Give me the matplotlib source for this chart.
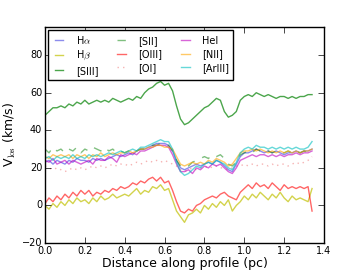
import matplotlib
matplotlib.use('Agg')
import matplotlib.pyplot as plt
import numpy as np

plt.style.use('classic')
plt.rcParams['figure.facecolor'] = 'white'
plt.rcParams['savefig.facecolor'] = 'white'
plt.rcParams['font.family'] = 'DejaVu Sans'

# distance along profile (pc), 68 samples
dist = np.linspace(0, 1.34, 68)

siii = [48, 50, 52, 52, 53, 52, 54, 53, 55, 54, 56, 54, 55, 56, 55,
        56, 55, 57, 56, 55, 56, 57, 56, 58, 57, 60, 62, 63, 65, 66,
        64, 65, 61, 53, 46, 43, 44, 46, 48, 50, 52, 53, 55, 57, 56,
        50, 47, 48, 50, 56, 58, 59, 58, 60, 59, 58, 59, 58, 57, 58,
        58, 57, 58, 57, 58, 58, 59, 59]
halpha = [23, 24, 22, 24, 23, 22, 24, 23, 25, 24, 24, 23, 25, 24, 25,
          24, 25, 26, 27, 26, 27, 28, 27, 29, 30, 30, 31, 32, 33, 33,
          33, 32, 29, 24, 20, 19, 20, 21, 22, 21, 22, 23, 22, 24, 23,
          21, 19, 18, 22, 26, 28, 28, 29, 30, 29, 28, 29, 28, 29, 28,
          27, 28, 28, 29, 28, 29, 29, 30]
hbeta = [0, -2, 1, -1, 2, 0, 3, 1, 4, 2, 3, 1, 4, 2, 5,
         3, 4, 6, 4, 5, 6, 5, 7, 9, 6, 8, 7, 10, 9, 11,
         8, 9, 3, -3, -6, -9, -5, -4, -2, -4, 0, -2, 1, -1, 2,
         0, 3, -3, 0, 2, 5, 3, 6, 4, 7, 5, 3, 6, 4, 7,
         4, 2, 5, 3, 4, 3, 2, 9]
oiii = [1, 4, 2, 5, 3, 6, 4, 7, 5, 8, 6, 8, 5, 7, 6,
        8, 7, 9, 8, 10, 9, 10, 12, 11, 13, 12, 14, 15, 13, 15,
        12, 13, 8, 2, -3, -4, -2, -3, 0, 1, 3, 4, 5, 4, 6,
        7, 5, 4, 3, 7, 9, 11, 9, 12, 10, 11, 9, 12, 10, 8,
        11, 9, 10, 9, 10, 9, 10, -3]
hei = [24, 23, 25, 22, 23, 24, 22, 24, 23, 22, 23, 24, 22, 25, 24,
       24, 26, 25, 23, 27, 26, 27, 28, 27, 29, 29, 30, 31, 32, 32,
       32, 31, 27, 22, 18, 18, 19, 17, 20, 19, 21, 20, 22, 21, 22,
       20, 18, 17, 20, 24, 25, 26, 27, 26, 27, 27, 26, 27, 26, 27,
       26, 27, 27, 28, 27, 28, 28, 29]
nii = [26, 25, 27, 26, 27, 26, 27, 25, 27, 26, 27, 25, 27, 26, 28,
       26, 27, 28, 27, 28, 28, 29, 28, 29, 30, 30, 31, 31, 32, 32,
       31, 31, 30, 26, 22, 21, 22, 23, 22, 23, 22, 24, 23, 25, 24,
       23, 21, 22, 25, 28, 29, 29, 30, 29, 30, 29, 28, 29, 28, 29,
       28, 29, 28, 29, 28, 29, 29, 30]
ariii = [25, 26, 24, 26, 25, 26, 25, 27, 25, 26, 25, 27, 26, 27, 26,
         27, 28, 27, 28, 29, 28, 29, 30, 29, 31, 31, 32, 33, 34, 35,
         34, 34, 30, 23, 18, 16, 17, 19, 21, 20, 22, 23, 22, 24, 23,
         22, 20, 19, 23, 28, 30, 31, 30, 32, 31, 31, 30, 31, 30, 31,
         30, 31, 30, 31, 30, 30, 31, 34]
sii = [30, 28, 31, 29, 30, 28, 30, 29, 31, 28, 30, 29, 31, 30, 29,
       31, 29, 30, 28, 29, 28, 29, 28, 29, 30, 30, 31, 32, 32, 33,
       32, 32, 29, 24, 21, 20, 21, 23, 24, 25, 26, 25, 27, 26, 27,
       25, 22, 21, 23, 27, 28, 29, 28, 30, 29, 28, 29, 28, 29, 28,
       28, 29, 28, 29, 28, 29, 28, 29]
oi = [21, 20, 19, 20, 19, 18, 19, 20, 19, 20, 19, 20, 21, 20, 21,
      20, 21, 22, 21, 22, 22, 21, 22, 23, 22, 23, 24, 23, 24, 23,
      24, 23, 22, 21, 19, 18, 19, 20, 19, 20, 20, 21, 20, 21, 20,
      20, 19, 20, 21, 21, 22, 21, 22, 21, 22, 22, 21, 22, 21, 22,
      22, 21, 22, 23, 22, 23, 24, 26]

fig = plt.figure(figsize=(3.6, 2.7), dpi=100)
ax = fig.add_axes([0.125, 0.1, 0.775, 0.8])

ax.plot(dist, halpha, color='#4040e0', alpha=0.6, lw=1, label=r'H$\alpha$')
ax.plot(dist, hbeta, color='#c8c820', alpha=0.8, lw=1, label=r'H$\beta$')
ax.plot(dist, siii, color='g', alpha=0.7, lw=1, label='[SIII]')
ax.plot(dist, sii, color='g', alpha=0.5, lw=1, ls='--', label='[SII]')
ax.plot(dist, oiii, color='r', alpha=0.6, lw=1, label='[OIII]')
ax.plot(dist, oi, color='lightcoral', alpha=0.6, lw=1, ls=':', label='[OI]')
ax.plot(dist, hei, color='m', alpha=0.6, lw=1, label='HeI')
ax.plot(dist, nii, color='orange', alpha=0.6, lw=1, label='[NII]')
ax.plot(dist, ariii, color='c', alpha=0.6, lw=1, label='[ArIII]')

ax.set_xlim(0, 1.4)
ax.set_ylim(-20, 95)
ax.set_yticks([-20, 0, 20, 40, 60, 80])
ax.tick_params(labelsize=7, pad=2)
ax.set_xlabel('Distance along profile (pc)', fontsize=9, labelpad=1)
ax.set_ylabel(r'V$_{\rm los}$ (km/s)', fontsize=9, labelpad=3)
ax.legend(loc='upper left', ncol=3, fontsize=7, handlelength=1.5,
          handletextpad=1.0, borderaxespad=0.3, labelspacing=0.35,
          columnspacing=1.6)

fig.savefig('out.png', dpi=100)
